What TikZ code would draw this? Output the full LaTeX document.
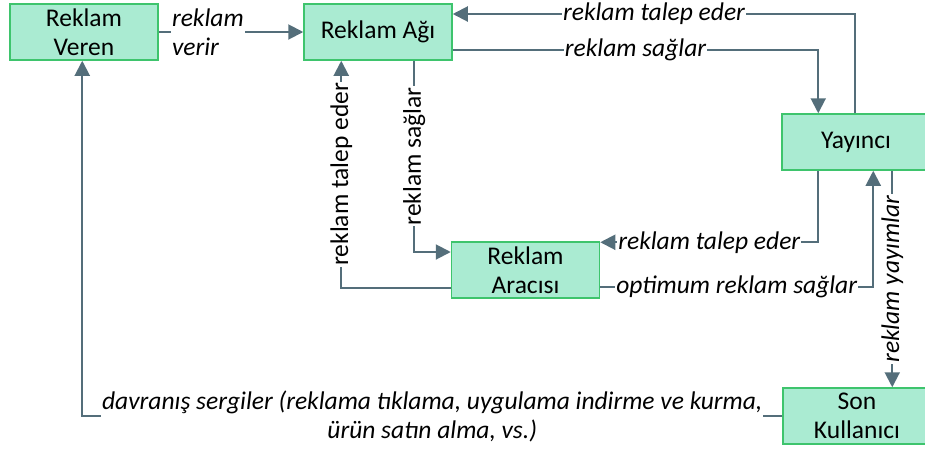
\documentclass[tikz,border=0pt]{standalone}
\usepackage{fontspec}
\setmainfont{Carlito}
\usetikzlibrary{arrows.meta,calc}
\definecolor{boxfill}{HTML}{AAEBD2}
\definecolor{boxline}{HTML}{3EC46D}
\definecolor{wire}{HTML}{546E7A}
\begin{document}
\begin{tikzpicture}[x=1pt,y=-1pt,
  font=\fontsize{25.5}{29}\selectfont,
  box/.style={draw=boxline, fill=boxfill, line width=1.5pt, minimum width=148pt,
    minimum height=56pt, inner sep=0pt, align=center},
  conn/.style={draw=wire, line width=2pt, -{Triangle[length=15pt,width=15pt]}},
  lbl/.style={fill=white, inner sep=1pt, font=\fontsize{25.5}{29}\selectfont\itshape},
  vlbl/.style={fill=white, inner sep=1pt, rotate=90}
]
\clip (0,0) rectangle (925,448);

% actors
\node[box] (veren) at (84,32)    {Reklam\\Veren};
\node[box] (ag)    at (378,32)   {Reklam Ağı};
\node[box] (yay)   at (856,142)  {Yayıncı};
\node[box] (arac)  at (525.5,270){Reklam\\Aracısı};
\node[box] (son)   at (857,416)  {Son\\Kullanıcı};

% advertiser -> ad network
\draw[conn] (veren) -- node[lbl, pos=0.34, align=left] {reklam\\verir} (ag);

% ad network <-> publisher
\draw[conn] ($(yay.north west)+(74,0)$) |- node[lbl, pos=0.75] {reklam talep eder}
  ($(ag.east)+(0,-18)$);
\draw[conn] ($(ag.east)+(0,18)$) -| node[lbl, pos=0.25] {reklam sağlar}
  ($(yay.north west)+(37,0)$);

% ad network <-> intermediary
\draw[conn] ($(arac.west)+(0,18)$) -| node[vlbl, pos=0.75] {reklam talep eder}
  ($(ag.south west)+(38,0)$);
\draw[conn] ($(ag.south west)+(111,0)$) |- node[vlbl, pos=0.25] {reklam sağlar}
  ($(arac.west)+(0,-18)$);

% publisher <-> intermediary
\draw[conn] ($(yay.south west)+(37,0)$) |- node[lbl, pos=0.75] {reklam talep eder}
  ($(arac.north east)+(0,1)$);
\draw[conn] ($(arac.east)+(0,17)$) -| node[lbl, pos=0.25] {optimum reklam sağlar}
  ($(yay.south west)+(92,0)$);

% publisher -> end user
\draw[conn] ($(yay.south west)+(111,0)$) -- node[lbl, rotate=90] {reklam yayımlar}
  ($(son.north west)+(110,0)$);

% end user -> advertiser
\draw[conn] (son.west) -| node[lbl, pos=0.25, align=center]
  {davranış sergiler (reklama tıklama, uygulama indirme ve kurma,\\ürün satın alma, vs.)}
  ($(veren.south west)+(73,0)$);
\end{tikzpicture}
\end{document}
